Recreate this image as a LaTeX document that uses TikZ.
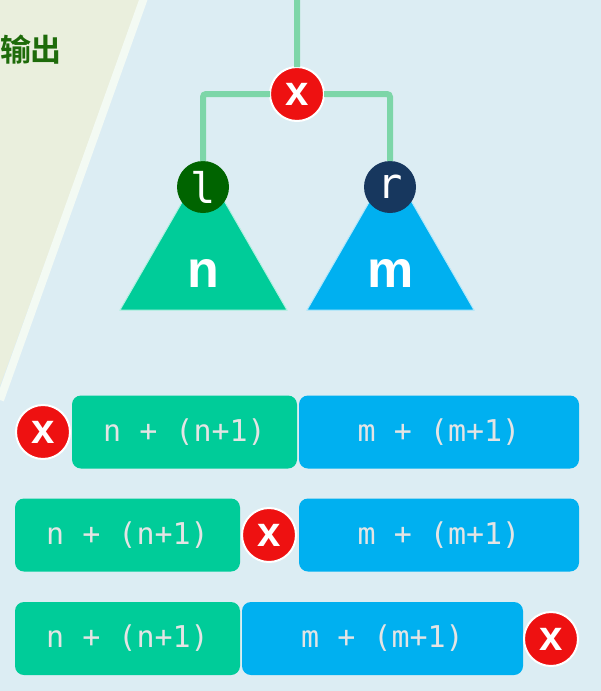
\documentclass[tikz,border=0pt]{standalone}
\usepackage{fontspec}
\setmainfont{DejaVu Sans}
\newfontfamily\monofont{DejaVu Sans Mono}
\newfontfamily\letterfont{Liberation Sans}
\newfontfamily\cjkfont{Noto Sans CJK SC}[BoldFont={Noto Sans CJK SC Bold}]
\usepackage{tikz}
\usetikzlibrary{positioning}
\usepackage{xcolor}
\definecolor{bgblue}{HTML}{DCEDF3}
\definecolor{paleside}{HTML}{EAEFDD}
\definecolor{stripe}{HTML}{F3FAF3}
\definecolor{titlegreen}{HTML}{1E6B0A}
\definecolor{ngreen}{HTML}{00CC99}
\definecolor{mblue}{HTML}{00B0F0}
\definecolor{lgreen}{HTML}{006400}
\definecolor{rnavy}{HTML}{17375E}
\definecolor{xred}{HTML}{EE1111}
\definecolor{linegreen}{HTML}{7DD6A8}
\definecolor{boxtext}{HTML}{E4E4E4}

\begin{document}
\begin{tikzpicture}[%
        x=1pt, y=-1pt,
        every node/.style={inner sep=0pt, outer sep=0pt, align=center},
        redx/.style={circle, minimum size=54pt, fill=xred, draw=white, line width=2pt,
          text=white, font=\letterfont\bfseries\fontsize{42}{42}\selectfont},
        root/.style={circle, minimum size=52pt, text=white,
          font=\monofont\fontsize{42}{42}\selectfont},
        tree/.style={fill=#1, draw=white!70!#1, line width=1pt},
        treelabel/.style={text=white, font=\letterfont\bfseries\fontsize{52}{52}\selectfont},
        nbox/.style={rectangle, rounded corners=9pt, fill=ngreen, minimum height=73pt,
          text=boxtext, font=\monofont\fontsize{30}{30}\selectfont},
        mbox/.style={nbox, fill=mblue},
        link/.style={draw=linegreen, line width=6pt, rounded corners=3pt}
      ]
      \useasboundingbox (0,0) rectangle (601,691);
      \fill[bgblue] (0,0) rectangle (601,691);
      \fill[paleside] (0,0) -- (141,0) -- (0,386) -- cycle;
      \draw[stripe, line width=8pt] (145,-5) -- (0,400);
      \node [text=titlegreen, font=\cjkfont\bfseries\fontsize{31}{31}\selectfont] (title) at (31,50) {输出};

      % subtrees
      \path [tree=ngreen] (203.5,165) -- (287,310) -- (120,310) -- cycle;
      \path [tree=mblue] (390.5,165) -- (474,310) -- (307,310) -- cycle;
      \node [treelabel] (n) at (203.5,273) {n};
      \node [treelabel] (m) at (390.5,273) {m};

      \node [root, fill=lgreen] (l) at (203,187) {l};
      \node [root, fill=rnavy] (r) at (390,187) {r};
      \node [redx] (x) at (297,94) {x};
      \coordinate (top) at (297,0);
      \path [link] (top) -- (x)
      (x) -| (l)
      (x) -| (r);

      % row 1
      \node [redx] (x1) at (43,432) {x};
      \node [nbox, minimum width=225pt] (n1) at (184.5,432) {n + (n+1)};
      \node [mbox, minimum width=280pt, right=2pt of n1] (m1) {m + (m+1)};
      % row 2
      \node [nbox, minimum width=225pt] (n2) at (127.5,535) {n + (n+1)};
      \node [redx] (x2) at (269,535) {x};
      \node [mbox, minimum width=280pt] (m2) at (439,535) {m + (m+1)};
      % row 3
      \node [nbox, minimum width=225pt] (n3) at (127.5,638.5) {n + (n+1)};
      \node [mbox, minimum width=281pt, right=2pt of n3] (m3) {m + (m+1)};
      \node [redx] (x3) at (551,639) {x};
    \end{tikzpicture}
\end{document}
